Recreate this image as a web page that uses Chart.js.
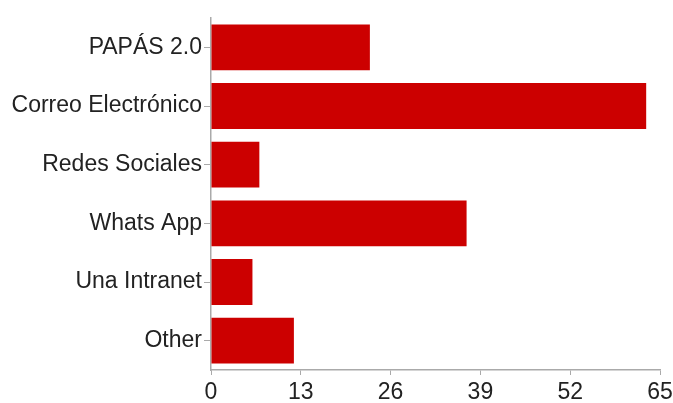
<!DOCTYPE html>
<html>
<head>
<meta charset="utf-8">
<script src="https://cdn.jsdelivr.net/npm/chart.js@4"></script>
<style>
  html, body { margin: 0; padding: 0; background: #fff; }
  #wrap { width: 673px; height: 403px; }
</style>
</head>
<body>
<div id="wrap"><canvas id="chart"></canvas></div>
<script>
const categories = ['PAPÁS 2.0', 'Correo Electrónico', 'Redes Sociales', 'Whats App', 'Una Intranet', 'Other']
const counts = [23, 63, 7, 37, 6, 12]
const xTicks = [0, 13, 26, 39, 52, 65]

const ctx = document.getElementById('chart').getContext('2d')

// horizontal bar chart
new Chart(ctx, {
    type: 'bar',
    data: {
        labels: categories,
        datasets: [
            {
                data: counts,
                backgroundColor: '#cc0000',
                borderWidth: 0,
                categoryPercentage: 1,
                barPercentage: 0.78
            }
        ]
    },
    options: {
        indexAxis: 'y',
        responsive: true,
        maintainAspectRatio: false,
        animation: false,
        devicePixelRatio: 1,
        layout: { padding: { top: 18, right: 0, left: 0, bottom: 0 } },
        plugins: { legend: { display: false }, tooltip: { enabled: false } },
        scales: {
            x: {
                min: 0,
                max: 65,
                afterBuildTicks: function(scale){
                    scale.ticks = xTicks.map(v => ({ value: v }))
                },
                afterFit: function(scale){
                    scale.height = 33
                    scale.paddingRight = 13
                },
                grid: { drawOnChartArea: false, tickLength: 5, color: '#aaa' },
                border: { color: '#aaa', width: 1.5 },
                ticks: { color: '#222', font: { family: 'Liberation Sans', size: 23 }, padding: 4, maxRotation: 0 }
            },
            y: {
                afterFit: function(scale){ scale.width = 211 },
                grid: { drawOnChartArea: false, tickLength: 7, color: '#aaa', offset: false },
                border: { color: '#aaa', width: 1.5 },
                ticks: { color: '#222', font: { family: 'Liberation Sans', size: 23 }, padding: 2 }
            }
        }
    }
})
</script>
</body>
</html>
